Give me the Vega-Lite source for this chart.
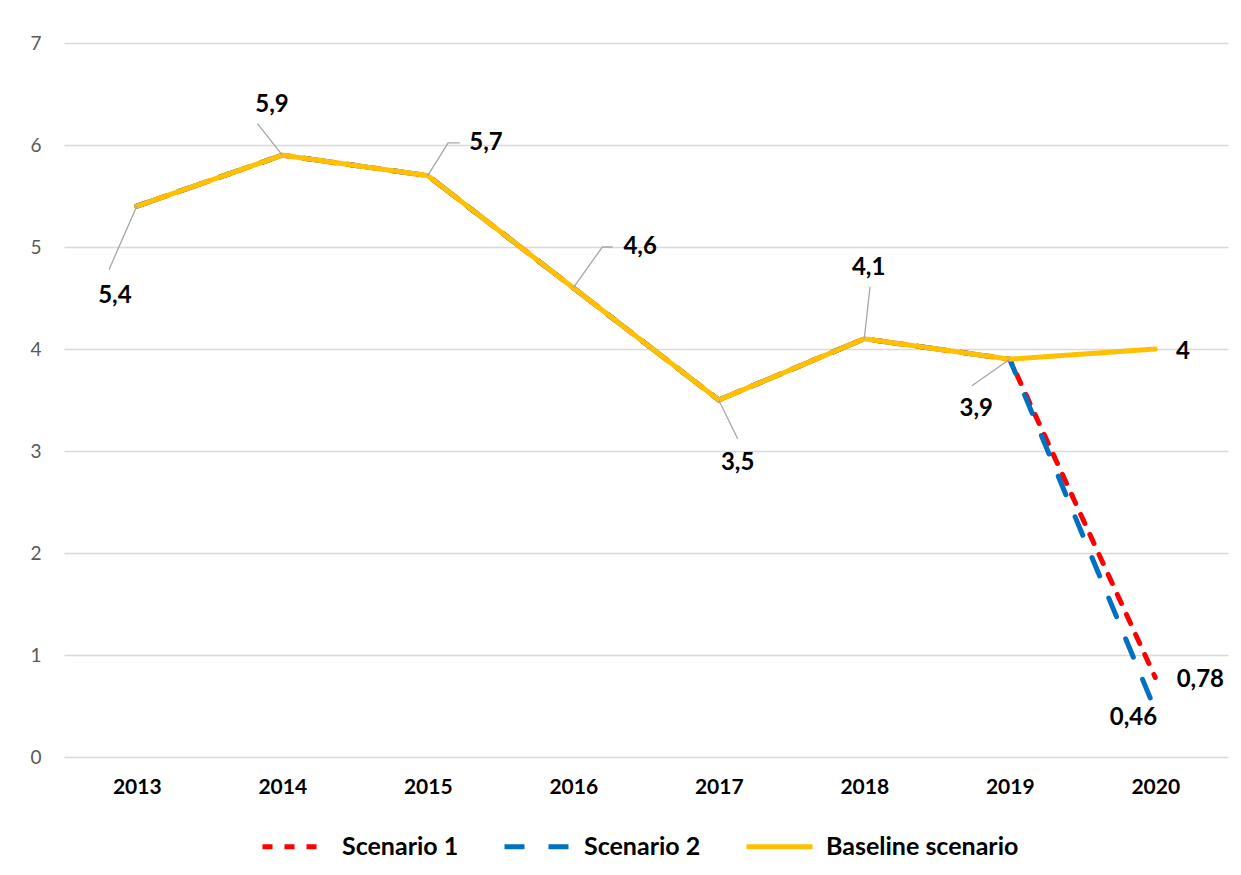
{
  "$schema": "https://vega.github.io/schema/vega-lite/v6.json",
  "autosize": {"type": "none"},
  "padding": {"left": 64, "top": 43, "right": 13, "bottom": 118},
  "width": 1164,
  "height": 714,
  "background": "white",
  "config": {
    "font": "Lato",
    "view": {"stroke": null}
  },
  "datasets": {
    "series": [
      {"year": 2013, "series": "Scenario 1", "value": 5.4},
      {"year": 2014, "series": "Scenario 1", "value": 5.9},
      {"year": 2015, "series": "Scenario 1", "value": 5.7},
      {"year": 2016, "series": "Scenario 1", "value": 4.6},
      {"year": 2017, "series": "Scenario 1", "value": 3.5},
      {"year": 2018, "series": "Scenario 1", "value": 4.1},
      {"year": 2019, "series": "Scenario 1", "value": 3.9},
      {"year": 2020, "series": "Scenario 1", "value": 0.78},
      {"year": 2013, "series": "Scenario 2", "value": 5.4},
      {"year": 2014, "series": "Scenario 2", "value": 5.9},
      {"year": 2015, "series": "Scenario 2", "value": 5.7},
      {"year": 2016, "series": "Scenario 2", "value": 4.6},
      {"year": 2017, "series": "Scenario 2", "value": 3.5},
      {"year": 2018, "series": "Scenario 2", "value": 4.1},
      {"year": 2019, "series": "Scenario 2", "value": 3.9},
      {"year": 2020, "series": "Scenario 2", "value": 0.46},
      {"year": 2013, "series": "Baseline scenario", "value": 5.4},
      {"year": 2014, "series": "Baseline scenario", "value": 5.9},
      {"year": 2015, "series": "Baseline scenario", "value": 5.7},
      {"year": 2016, "series": "Baseline scenario", "value": 4.6},
      {"year": 2017, "series": "Baseline scenario", "value": 3.5},
      {"year": 2018, "series": "Baseline scenario", "value": 4.1},
      {"year": 2019, "series": "Baseline scenario", "value": 3.9},
      {"year": 2020, "series": "Baseline scenario", "value": 4}
    ],
    "labels": [
      {"text": "5,4", "lx": 2012.85, "ly": 4.52},
      {"text": "5,9", "lx": 2013.93, "ly": 6.39},
      {"text": "5,7", "lx": 2015.4, "ly": 6.02},
      {"text": "4,6", "lx": 2016.46, "ly": 5.0},
      {"text": "3,5", "lx": 2017.13, "ly": 2.88},
      {"text": "4,1", "lx": 2018.03, "ly": 4.79},
      {"text": "3,9", "lx": 2018.77, "ly": 3.41},
      {"text": "4", "lx": 2020.19, "ly": 3.97},
      {"text": "0,78", "lx": 2020.31, "ly": 0.755},
      {"text": "0,46", "lx": 2019.85, "ly": 0.38}
    ],
    "leaders": [
      {"id": "a", "ord": 1, "x": 2013, "y": 5.4},
      {"id": "a", "ord": 2, "x": 2012.81, "y": 4.78},
      {"id": "b", "ord": 1, "x": 2014, "y": 5.9},
      {"id": "b", "ord": 2, "x": 2013.83, "y": 6.21},
      {"id": "c", "ord": 1, "x": 2015, "y": 5.7},
      {"id": "c", "ord": 2, "x": 2015.14, "y": 6.02},
      {"id": "c", "ord": 3, "x": 2015.22, "y": 6.02},
      {"id": "d", "ord": 1, "x": 2016, "y": 4.6},
      {"id": "d", "ord": 2, "x": 2016.2, "y": 5.0},
      {"id": "d", "ord": 3, "x": 2016.27, "y": 5.0},
      {"id": "e", "ord": 1, "x": 2017, "y": 3.5},
      {"id": "e", "ord": 2, "x": 2017.13, "y": 3.12},
      {"id": "f", "ord": 1, "x": 2018, "y": 4.1},
      {"id": "f", "ord": 2, "x": 2018.04, "y": 4.61},
      {"id": "g", "ord": 1, "x": 2019, "y": 3.9},
      {"id": "g", "ord": 2, "x": 2018.74, "y": 3.64}
    ]
  },
  "layer": [
    {
      "data": {"name": "series"},
      "transform": [{"filter": "datum.series === 'Scenario 1'"}],
      "mark": {"type": "line", "strokeWidth": 5, "strokeCap": "round"},
      "encoding": {
        "x": {
          "field": "year", "type": "quantitative",
          "scale": {"domain": [2012.5, 2020.5], "nice": false, "zero": false},
          "axis": {
            "title": null, "values": [2013, 2014, 2015, 2016, 2017, 2018, 2019, 2020],
            "format": "d", "grid": false, "ticks": false, "domain": false,
            "labelFont": "Lato", "labelFontSize": 21, "labelFontWeight": "bold",
            "labelColor": "#000000", "labelPadding": 19
          }
        },
        "y": {
          "field": "value", "type": "quantitative",
          "scale": {"domain": [0, 7], "nice": false},
          "axis": {
            "title": null, "values": [0, 1, 2, 3, 4, 5, 6, 7], "format": "d",
            "grid": true, "gridColor": "#D9D9D9", "gridWidth": 1.5,
            "ticks": false, "domain": false,
            "labelFont": "Lato", "labelFontSize": 19, "labelColor": "#595959",
            "labelPadding": 23
          }
        },
        "color": {
          "field": "series", "type": "nominal",
          "scale": {"domain": ["Scenario 1", "Scenario 2", "Baseline scenario"], "range": ["#FF0000", "#0070C0", "#FFC000"]},
          "legend": {
            "title": null, "orient": "none", "direction": "horizontal",
            "legendX": 196, "legendY": 768,
            "symbolType": "stroke", "symbolSize": 4356, "symbolStrokeWidth": 5,
            "labelFont": "Lato", "labelFontSize": 25, "labelFontWeight": "bold",
            "labelColor": "#000000", "labelOffset": 11, "columnPadding": 35,
            "labelLimit": 400
          }
        },
        "strokeDash": {
          "field": "series", "type": "nominal",
          "scale": {"domain": ["Scenario 1", "Scenario 2", "Baseline scenario"], "range": [[10, 12], [20, 24], [1, 0]]},
          "legend": null
        }
      }
    },
    {
      "data": {"name": "series"},
      "transform": [{"filter": "datum.series === 'Scenario 2'"}],
      "mark": {"type": "line", "strokeWidth": 5, "strokeCap": "round"},
      "encoding": {
        "x": {"field": "year", "type": "quantitative"},
        "y": {"field": "value", "type": "quantitative"},
        "color": {"field": "series", "type": "nominal"},
        "strokeDash": {"field": "series", "type": "nominal", "legend": null}
      }
    },
    {
      "data": {"name": "series"},
      "transform": [{"filter": "datum.series === 'Baseline scenario'"}],
      "mark": {"type": "line", "strokeWidth": 5, "strokeCap": "round", "strokeJoin": "round"},
      "encoding": {
        "x": {"field": "year", "type": "quantitative"},
        "y": {"field": "value", "type": "quantitative"},
        "color": {"field": "series", "type": "nominal"},
        "strokeDash": {"field": "series", "type": "nominal", "legend": null}
      }
    },
    {
      "data": {"name": "leaders"},
      "mark": {"type": "line", "color": "#A6A6A6", "strokeWidth": 1.3},
      "encoding": {
        "x": {"field": "x", "type": "quantitative"},
        "y": {"field": "y", "type": "quantitative"},
        "detail": {"field": "id", "type": "nominal"},
        "order": {"field": "ord", "type": "quantitative"}
      }
    },
    {
      "data": {"name": "labels"},
      "mark": {"type": "text", "font": "Lato", "fontSize": 24, "fontWeight": "bold", "color": "#000000", "align": "center", "baseline": "middle"},
      "encoding": {
        "x": {"field": "lx", "type": "quantitative"},
        "y": {"field": "ly", "type": "quantitative"},
        "text": {"field": "text", "type": "nominal"}
      }
    }
  ]
}
